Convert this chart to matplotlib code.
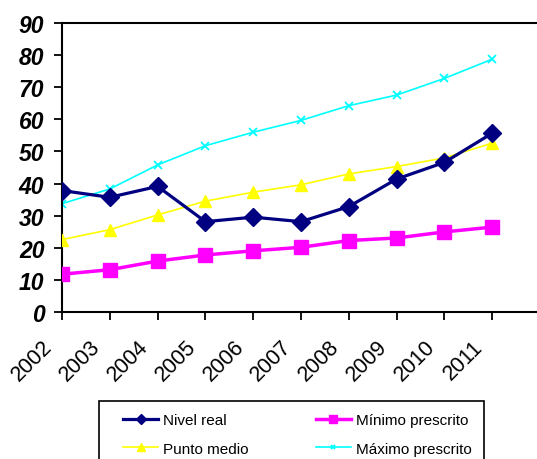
import matplotlib
matplotlib.use("Agg")
import matplotlib.pyplot as plt
from matplotlib.transforms import ScaledTranslation
from matplotlib.patches import Rectangle

years = ["2002", "2003", "2004", "2005", "2006", "2007", "2008", "2009", "2010", "2011"]
nivel_real = [37.8, 35.7, 39.1, 28.1, 29.5, 28.1, 32.8, 41.4, 46.6, 55.7]
minimo = [11.7, 13.1, 15.8, 17.7, 19.0, 20.1, 22.2, 23.0, 24.9, 26.4]
punto_medio = [22.5, 25.6, 30.2, 34.5, 37.3, 39.6, 43.0, 45.3, 48.0, 52.6]
maximo = [33.7, 38.3, 45.8, 51.8, 56.0, 59.7, 64.3, 67.6, 72.8, 78.8]
yticks = [0, 10, 20, 30, 40, 50, 60, 70, 80, 90]

plt.rcParams['font.family'] = ['Liberation Sans', 'DejaVu Sans']

W, H = 537, 460
fig = plt.figure(figsize=(W/100, H/100), dpi=100)
left, right, top, bottom = 62, 540, 24.3, 312.7
ax = fig.add_axes([left/W, 1-bottom/H, (right-left)/W, (bottom-top)/H])

x = list(range(len(years)))
ax.plot(x, nivel_real, color='#000080', lw=2.3, marker='D', ms=9, label='Nivel real', zorder=5)
ax.plot(x, minimo, color='#FF00FF', lw=2.5, marker='s', ms=9.5, label='Mínimo prescrito', zorder=4)
ax.plot(x, punto_medio, color='#FFFF00', lw=1.2, marker='^', ms=8.5, label='Punto medio', zorder=3)
ax.plot(x, maximo, color='#00FFFF', lw=1.2, marker='x', ms=6, mew=1.3, label='Máximo prescrito', zorder=2)

ax.set_xlim(0, 10)
ax.set_ylim(0, 90)
ax.set_yticks(yticks)
ax.set_yticklabels([str(v) for v in yticks], fontsize=16.5, fontweight='bold', fontstyle='italic')
ax.set_xticks(x)
ax.tick_params(axis='both', direction='out', length=5.7, width=1.3, colors='black')
ax.tick_params(axis='y', pad=7)
ax.set_xticklabels([])
for s in ax.spines.values():
    s.set_linewidth(1.5)
    s.set_color('black')
ax.spines['right'].set_visible(False)

# category labels, rotated, anchored at their upper-right corner
off = ScaledTranslation(-20/100, -24/100, fig.dpi_scale_trans)
for i, yr in enumerate(years):
    ax.text(i, 0, yr, transform=ax.get_xaxis_transform() + off, rotation=45,
            ha='right', va='top', rotation_mode='anchor', fontsize=15.5, clip_on=False)

# legend frame
fig.patches.append(Rectangle((99/W, -0.05), (484-99)/W, 1-402/H+0.05, transform=fig.transFigure,
                             facecolor='white', edgecolor='black', lw=1.2, zorder=0))

handles, labels = ax.get_legend_handles_labels()
order = [0, 2, 1, 3]
leg = fig.legend([handles[i] for i in order], [labels[i] for i in order],
                 ncol=2, loc='upper left', bbox_to_anchor=(123/W, 1-414/H),
                 fontsize=11, frameon=False, handlelength=2.3, handletextpad=0.33,
                 columnspacing=4.4, markerscale=0.6, borderaxespad=0, borderpad=0,
                 labelspacing=0.95)

fig.savefig("out.png", dpi=100)
